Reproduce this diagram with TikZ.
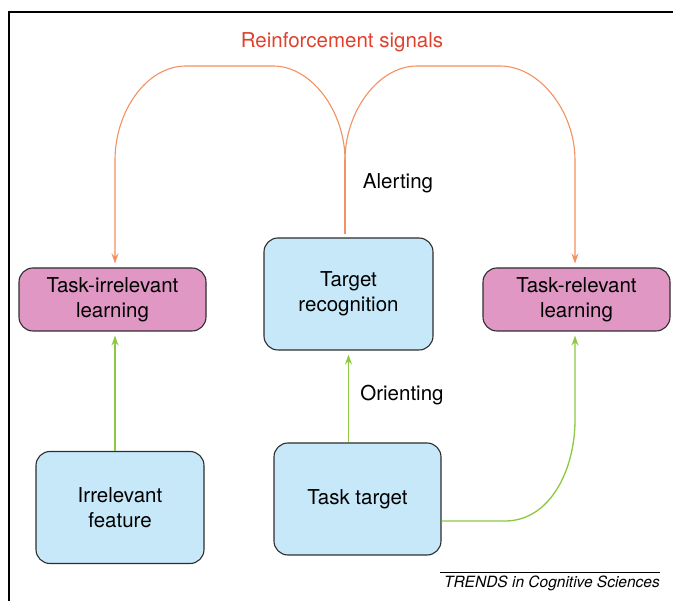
\documentclass[tikz,border=0pt]{standalone}
\usepackage{fontspec}
\setmainfont{TeX Gyre Heros}
\usepackage{tikz}
\usetikzlibrary{arrows.meta}
\definecolor{boxblue}{HTML}{C6E8F9}
\definecolor{boxpink}{HTML}{E097C4}
\definecolor{linegreen}{HTML}{8DC842}
\definecolor{lineorange}{HTML}{F39160}
\definecolor{titlered}{HTML}{E0412F}
\definecolor{edgegray}{HTML}{2E2E2E}

\begin{document}
\begin{tikzpicture}[
x=1pt, y=-1pt,
font=\fontsize{20.5}{25}\selectfont,
>={Stealth[length=10pt,width=7pt]},
learn/.style={draw=edgegray, line width=1.1pt, fill=boxpink, rounded corners=14pt, align=center, minimum width=187pt, minimum height=63pt},
cue/.style={draw=edgegray, line width=1.1pt, fill=boxblue, rounded corners=14pt, align=center, minimum width=168pt, minimum height=112pt},
reinf/.style={->, draw=lineorange, line width=1.1pt, shorten >=4pt},
orient/.style={->, draw=linegreen, line width=1.3pt, shorten >=4pt}
]
    \useasboundingbox (0,0) rectangle (673,601);
    % frame
    \draw [line width=2.4pt] (9,601) -- (9,12) -- (673,12);

    % boxes
    \node[learn] (irrlearn) at (112.5,299.5) {Task-irrelevant\\learning};
    \node[learn] (rellearn) at (576.5,299.5) {Task-relevant\\learning};
    \node[cue, minimum width=169pt] (recog) at (348.5,294) {Target\\recognition};
    \node[cue] (irrfeat) at (120,507.5) {Irrelevant\\feature};
    \node[cue, minimum width=167pt] (target) at (357.5,499) {Task target};

    % labels
    \node[text=titlered] (reinflabel) at (342,42) {Reinforcement signals};
    \node (alertlabel) at (398,183) {Alerting};
    \node (orientlabel) at (402,395) {Orienting};

    % reinforcement lines
    \coordinate (split) at (345,160);
    \draw[draw=lineorange, line width=1.1pt, shorten <=3pt] (recog.north -| split) -- (split);
    \draw[reinf] (split) .. controls (345,112) and (312,66) .. (273,66) -- (186,66)
        .. controls (146,66) and (115,112) .. (115,160) -- (irrlearn.north -| 115,0);
    \draw[reinf] (split) .. controls (345,112) and (378,66) .. (417,66) -- (500,66)
        .. controls (540,66) and (575,112) .. (575,160) -- (rellearn.north -| 575,0);

    % orienting lines
    \draw[orient] (irrfeat.north -| 115,0) -- (irrlearn.south -| 115,0);
    \draw[orient] (target.north -| recog.south) -- (recog.south);
    \draw[orient] ([yshift=-22pt]target.east) -- (505,521)
        .. controls (550,521) and (575,470) .. (575,420) -- (rellearn.south -| 575,0);

    % source
    \draw[line width=0.6pt] (440,572) coordinate (srcl) -- (660,572) coordinate (srcr);
    \node[anchor=north east, inner sep=0pt, font=\fontsize{15.5}{18}\selectfont\itshape] (source) at ([yshift=-4pt]srcr) {TRENDS in Cognitive Sciences};
\end{tikzpicture}
\end{document}
